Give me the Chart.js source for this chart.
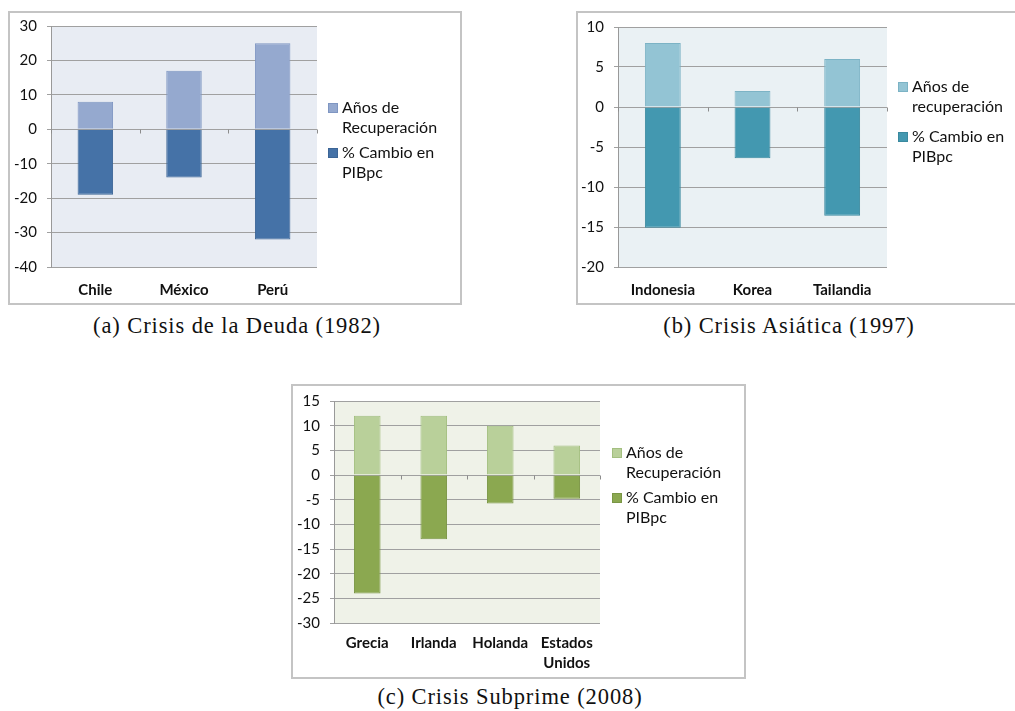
<!DOCTYPE html>
<html lang="es">
<head>
<meta charset="utf-8">
<title>Crisis: años de recuperación y cambio en el PIB per cápita</title>
<script src="https://cdn.jsdelivr.net/npm/chart.js@4.4.1/dist/chart.umd.min.js"></script>
<style>
  html, body { margin: 0; padding: 0; background: #ffffff; }
  body { width: 1015px; height: 711px; position: relative; overflow: hidden; }
  .frame { position: absolute; box-sizing: border-box; border: 2px solid #c4c4c4; background: #fff; }
  .frame canvas { display: block; }
  .caption {
    position: absolute; font-family: "Liberation Serif", "DejaVu Serif", serif;
    font-size: 22.5px; letter-spacing: 0.9px; line-height: 26px; height: 26px;
    color: #111; text-align: center; white-space: nowrap; width: 400px;
  }
</style>
</head>
<body>
<div class="frame" style="left:8px; top:11px; width:454px; height:294px;"><canvas id="debt" width="450" height="290"></canvas></div>
<div class="frame" style="left:576px; top:11px; width:460px; height:294px;"><canvas id="asia" width="437" height="290"></canvas></div>
<div class="frame" style="left:291px; top:384px; width:455px; height:295px;"><canvas id="subprime" width="451" height="291"></canvas></div>

<div class="caption" style="left:37px; top:313px;">(a) Crisis de la Deuda (1982)</div>
<div class="caption" style="left:589px; top:313px;">(b) Crisis Asiática (1997)</div>
<div class="caption" style="left:310px; top:684px;">(c) Crisis Subprime (2008)</div>

<script>
// ---- Data ----
const debtCountries = ['Chile', 'México', 'Perú'];
const debtRecoveryYears = [8, 17, 25];
const debtGdpChange = [-19, -14, -32];
const debtAxis = [-40, 30, 10];          // min, max, step

const asiaCountries = ['Indonesia', 'Korea', 'Tailandia'];
const asiaRecoveryYears = [8, 2, 6];
const asiaGdpChange = [-15.1, -6.4, -13.6];
const asiaAxis = [-20, 10, 5];

const subprimeCountries = ['Grecia', 'Irlanda', 'Holanda', ['Estados', 'Unidos']];
const subprimeRecoveryYears = [12, 12, 10, 6];
const subprimeGdpChange = [-24, -13, -5.8, -4.8];
const subprimeAxis = [-30, 15, 5];

const recoveryLabel = 'Años de\nRecuperación';
const recoveryLabelLower = 'Años de\nrecuperación';
const gdpLabel = '% Cambio en\nPIBpc';

// ---- Drawing helpers ----
const FONT = 'Lato, "Open Sans", "Liberation Sans", sans-serif';

// Fills the plotting area with the panel tint
const plotBackground = {
  id: 'plotBackground',
  beforeDraw(chart, args, opts) {
    const { ctx, chartArea: a } = chart;
    ctx.save();
    ctx.fillStyle = opts.color;
    ctx.fillRect(a.left, a.top, a.right - a.left, a.bottom - a.top);
    ctx.restore();
  }
};

// Small category tick marks hanging below the zero line
const zeroTicks = {
  id: 'zeroTicks',
  afterDraw(chart, args, opts) {
    const { ctx, scales: { x, y } } = chart;
    const y0 = Math.round(y.getPixelForValue(0)) + 0.5;
    ctx.save();
    ctx.strokeStyle = opts.color;
    ctx.lineWidth = 1;
    ctx.beginPath();
    const n = x.getLabels().length;
    for (let i = 0; i <= n; i++) {
      const px = Math.round(x.getPixelForValue(i - 0.5)) + 0.5;
      ctx.moveTo(px, y0);
      ctx.lineTo(px, y0 + 4);
    }
    ctx.stroke();
    ctx.restore();
  }
};

// Legend box to the right of the plot, with multi-line entries
const sideLegend = {
  id: 'sideLegend',
  afterDraw(chart, args, opts) {
    const { ctx } = chart;
    ctx.save();
    ctx.font = `${opts.size}px ${FONT}`;
    ctx.textBaseline = 'middle';
    let yy = opts.top;
    chart.data.datasets.forEach((ds) => {
      const lines = ds.label.split('\n');
      ctx.fillStyle = ds.backgroundColor;
      ctx.fillRect(opts.left, yy - 5, 10, 10);
      ctx.strokeStyle = ds.borderColor;
      ctx.lineWidth = 1;
      ctx.strokeRect(opts.left + 0.5, yy - 4.5, 9, 9);
      ctx.fillStyle = '#111';
      lines.forEach((line, k) => ctx.fillText(line, opts.left + 14, yy + k * opts.lineHeight));
      yy += opts.gap;
    });
    ctx.restore();
  }
};

function buildChart(id, cfg) {
  const [yMin, yMax, yStep] = cfg.axis;
  return new Chart(document.getElementById(id), {
    type: 'bar',
    data: {
      labels: cfg.categories,
      datasets: [
        { label: cfg.recoveryLabel, data: cfg.recovery,
          backgroundColor: cfg.light, borderColor: cfg.lightBorder, borderWidth: 1,
          categoryPercentage: 0.8, barPercentage: 0.5 },
        { label: gdpLabel, data: cfg.gdp,
          backgroundColor: cfg.dark, borderColor: cfg.darkBorder, borderWidth: 1,
          categoryPercentage: 0.8, barPercentage: 0.5 }
      ]
    },
    options: {
      responsive: false,
      animation: false,
      layout: { padding: { left: 0, top: cfg.padTop, right: cfg.padRight, bottom: 0 } },
      plugins: {
        legend: { display: false },
        tooltip: { enabled: false },
        plotBackground: { color: cfg.bg },
        zeroTicks: { color: '#8c8c8c' },
        sideLegend: { left: cfg.legendLeft, top: cfg.legendTop, gap: cfg.legendGap, lineHeight: 20, size: 16 }
      },
      scales: {
        x: {
          stacked: true,
          grid: { display: false },
          border: { display: false },
          ticks: { color: '#111', padding: cfg.xPad, maxRotation: 0, autoSkip: false,
                   font: { family: FONT, size: 15, weight: 'bold', lineHeight: '20px' } },
          afterFit(scale) { scale.height = cfg.xHeight; }
        },
        y: {
          stacked: true,
          min: yMin, max: yMax,
          ticks: { stepSize: yStep, color: '#111', padding: 10,
                   font: { family: FONT, size: 15, lineHeight: '4px' } },
          grid: { color: '#a0a0a0', lineWidth: 1, tickLength: 4 },
          border: { color: '#999999', width: 1 },
          afterFit(scale) { scale.width = cfg.yWidth; }
        }
      }
    },
    plugins: [plotBackground, zeroTicks, sideLegend]
  });
}

buildChart('debt', {
  categories: debtCountries, recovery: debtRecoveryYears, gdp: debtGdpChange, axis: debtAxis,
  recoveryLabel: recoveryLabel,
  light: '#95a9cf', lightBorder: '#7f96c2', dark: '#4572a7', darkBorder: '#3c6596', bg: '#e8ecf3',
  padTop: 13, padRight: 143, yWidth: 41, xHeight: 36, xPad: 5,
  legendLeft: 318, legendTop: 95, legendGap: 45
});

buildChart('asia', {
  categories: asiaCountries, recovery: asiaRecoveryYears, gdp: asiaGdpChange, axis: asiaAxis,
  recoveryLabel: recoveryLabelLower,
  light: '#93c4d4', lightBorder: '#7cb3c5', dark: '#4398b0', darkBorder: '#3a899f', bg: '#eaf1f4',
  padTop: 14, padRight: 128, yWidth: 40, xHeight: 36, xPad: 5,
  legendLeft: 320, legendTop: 74, legendGap: 50
});

buildChart('subprime', {
  categories: subprimeCountries, recovery: subprimeRecoveryYears, gdp: subprimeGdpChange, axis: subprimeAxis,
  recoveryLabel: recoveryLabel,
  light: '#b9d09a', lightBorder: '#a3bf80', dark: '#8ba850', darkBorder: '#7a9645', bg: '#eff2e8',
  padTop: 15, padRight: 144, yWidth: 41, xHeight: 54, xPad: 2,
  legendLeft: 319, legendTop: 67, legendGap: 45
});
</script>
</body>
</html>
